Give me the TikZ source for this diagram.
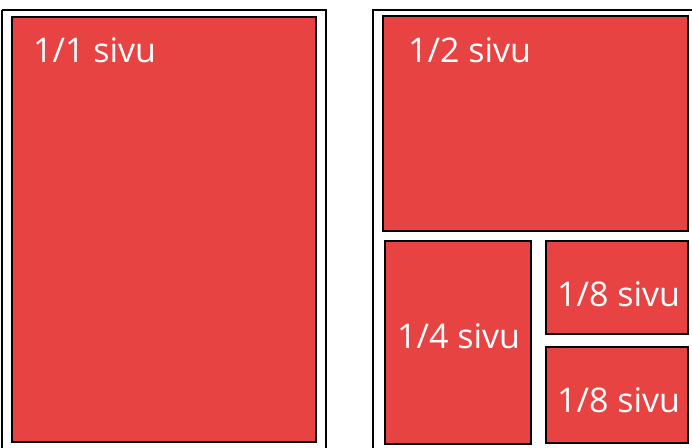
\documentclass[tikz,border=0pt]{standalone}
\usepackage{fontspec}
\setmainfont{Open Sans}
\definecolor{pagered}{HTML}{E84343}
\begin{document}
\begin{tikzpicture}[x=1pt,y=-1pt,
  frame/.style={draw=black,line width=2.2pt},
  part/.style={draw=black,line width=2.2pt,fill=pagered},
  lbl/.style={text=white,font=\fontsize{34}{34}\selectfont,inner sep=0pt}]
\useasboundingbox (0,0) rectangle (692,447);
\draw[frame] (2,10) -- (326,10) -- (326,460);
\draw[frame] (2,460) -- (2,10);
\draw[frame] (373,460) -- (373,10) -- (700,10);
\path[part] (12,17) rectangle (316,442) coordinate (a1);
\path[part] (383,16) rectangle (688,231);
\path[part] (385,241) rectangle (531,444);
\path[part] (546,241) rectangle (688,334);
\path[part] (546,347) rectangle (688,443);
\node[lbl,anchor=base west] (t1) at (33,62) {1/1 sivu};
\node[lbl,anchor=base west] (t2) at (408,62) {1/2 sivu};
\node[lbl,anchor=base west] (t4) at (397,348) {1/4 sivu};
\node[lbl,anchor=base west] (t8a) at (557,306) {1/8 sivu};
\node[lbl,anchor=base west] (t8b) at (557,412) {1/8 sivu};
\end{tikzpicture}
\end{document}
